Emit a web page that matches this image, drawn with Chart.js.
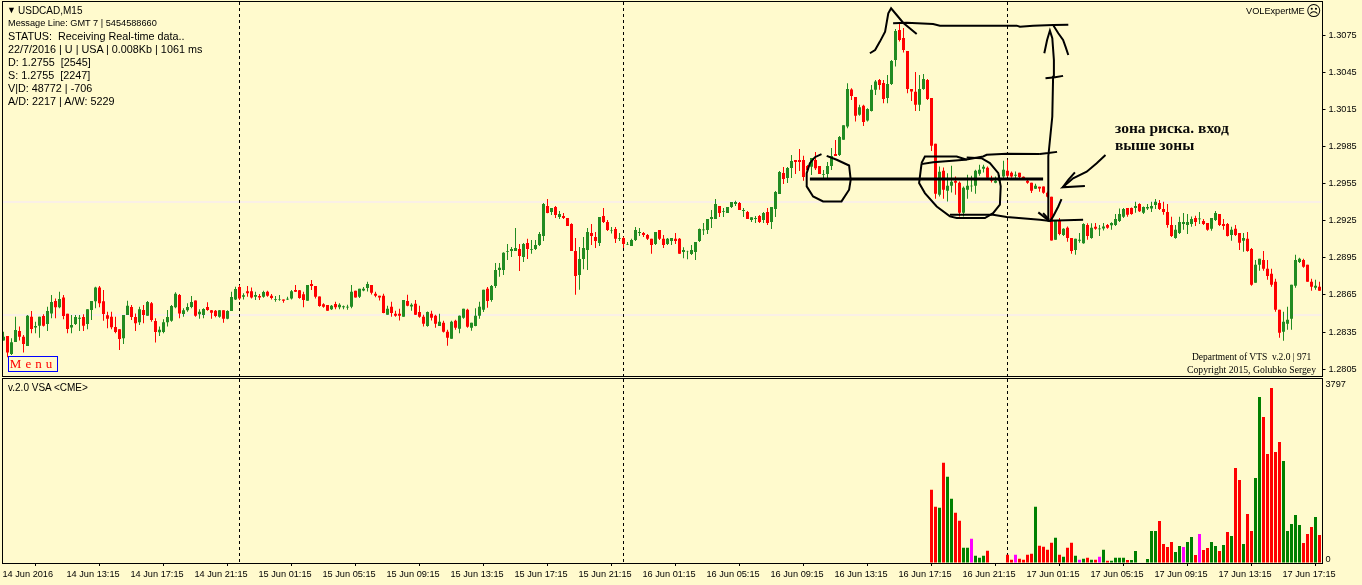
<!DOCTYPE html>
<html>
<head>
<meta charset="utf-8">
<script src="https://cdn.jsdelivr.net/npm/chart.js@4"></script>
<style>
  html, body { margin: 0; padding: 0; background: #fffacd; overflow: hidden; }
  #wrap { position: relative; width: 1362px; height: 585px; overflow: hidden; }
  canvas { position: absolute; left: 0; }
  .t { position: absolute; white-space: pre; color: #000; font: 10.8px "Liberation Sans", sans-serif; line-height: 13px; }
  .serif { font-family: "Liberation Serif", serif; }
  #menu { left: 8px; top: 356px; width: 48px; height: 14px; border: 1px solid #00f; color: #f00; font: 13px/14px "Liberation Serif", serif; text-align: center; letter-spacing: 4px; }
  #note { left: 1115px; top: 120px; font: bold 15.5px/16.5px "Liberation Serif", serif; color: #0a0a0a; }
</style>
</head>
<body>
<div id="wrap">
  <canvas id="price" width="1362" height="378" style="top:0"></canvas>
  <canvas id="volume" width="1362" height="207" style="top:378px"></canvas>

  <div class="t" style="left:7px;top:4px;font-size:9px">▼</div>
  <div class="t" style="left:18px;top:4px;font-size:10px">USDCAD,M15</div>
  <div class="t" style="left:8px;top:17px;font-size:9.2px">Message Line: GMT 7 | 5454588660</div>
  <div class="t" style="left:8px;top:30px">STATUS:  Receiving Real-time data..</div>
  <div class="t" style="left:8px;top:43px">22/7/2016 | U | USA | 0.008Kb | 1061 ms</div>
  <div class="t" style="left:8px;top:56px">D: 1.2755  [2545]</div>
  <div class="t" style="left:8px;top:69px">S: 1.2755  [2247]</div>
  <div class="t" style="left:8px;top:82px">V|D: 48772 | -706</div>
  <div class="t" style="left:8px;top:95px">A/D: 2217 | A/W: 5229</div>
  <div class="t" style="left:1246px;top:5px;font-size:9.2px">VOLExpertME</div>
  <div class="t" style="left:1306px;top:3px;font:15px/16px 'DejaVu Sans'">☹</div>
  <div class="t" id="menu">Menu</div>
  <div class="t serif" style="left:1192px;top:351px;font-size:9.5px">Department of VTS  v.2.0 | 971</div>
  <div class="t serif" style="left:1187px;top:363px;font-size:9.7px">Copyright 2015, Golubko Sergey</div>
  <div class="t" style="left:8px;top:381px;font-size:10px">v.2.0 VSA &lt;CME&gt;</div>
  <div class="t" id="note">зона риска. вход
выше зоны</div>
</div>

<script>
// x axis labels, one every 16 bars (4 hours)
const tickLabels = ["14 Jun 2016","14 Jun 13:15","14 Jun 17:15","14 Jun 21:15","15 Jun 01:15","15 Jun 05:15","15 Jun 09:15",
  "15 Jun 13:15","15 Jun 17:15","15 Jun 21:15","16 Jun 01:15","16 Jun 05:15","16 Jun 09:15","16 Jun 13:15","16 Jun 17:15",
  "16 Jun 21:15","17 Jun 01:15","17 Jun 05:15","17 Jun 09:15","17 Jun 13:15","17 Jun 17:15"];
const priceTicks = [1.3075,1.3045,1.3015,1.2985,1.2955,1.2925,1.2895,1.2865,1.2835,1.2805];
const levels = [1.2940,1.2849];
const midnightBars = [59,155,251];

const opens = [
1.28281,1.28318,1.28173,1.28270,1.28359,1.28313,1.28238,1.28474,1.28386,1.28402,
1.28480,1.28415,1.28501,1.28601,1.28550,1.28630,1.28499,1.28386,1.28415,1.28458,
1.28472,1.28415,1.28528,1.28598,1.28711,1.28598,1.28485,1.28474,1.28391,1.28372,
1.28300,1.28488,1.28552,1.28472,1.28429,1.28528,1.28482,1.28582,1.28439,1.28348,
1.28351,1.28429,1.28442,1.28550,1.28649,1.28496,1.28526,1.28552,1.28606,1.28493,
1.28488,1.28552,1.28526,1.28523,1.28474,1.28526,1.28458,1.28520,1.28614,1.28714,
1.28636,1.28679,1.28679,1.28636,1.28641,1.28636,1.28676,1.28644,1.28612,1.28609,
1.28614,1.28614,1.28622,1.28690,1.28687,1.28655,1.28604,1.28738,1.28722,1.28638,
1.28574,1.28569,1.28534,1.28577,1.28550,1.28551,1.28549,1.28554,1.28683,1.28635,
1.28686,1.28707,1.28731,1.28659,1.28643,1.28643,1.28489,1.28554,1.28497,1.28497,
1.28473,1.28602,1.28556,1.28578,1.28513,1.28473,1.28400,1.28497,1.28481,1.28400,
1.28425,1.28352,1.28296,1.28441,1.28376,1.28465,1.28530,1.28384,1.28400,1.28481,
1.28530,1.28699,1.28610,1.28723,1.28852,1.28852,1.28998,1.29006,1.29006,1.29022,
1.28957,1.29070,1.29016,1.29022,1.29054,1.29127,1.29369,1.29320,1.29361,1.29280,
1.29288,1.29272,1.29224,1.29006,1.28812,1.28941,1.29014,1.29151,1.29119,1.29070,
1.29288,1.29240,1.29170,1.29183,1.29105,1.29111,1.29057,1.29046,1.29094,1.29151,
1.29151,1.29135,1.29103,1.29062,1.29175,1.29103,1.29062,1.29086,1.29103,1.29103,
1.28997,1.29000,1.28981,1.28997,1.29086,1.29172,1.29175,1.29264,1.29264,1.29369,
1.29323,1.29312,1.29361,1.29385,1.29393,1.29328,1.29320,1.29256,1.29264,1.29288,
1.29256,1.29320,1.29240,1.29344,1.29466,1.29635,1.29595,1.29675,1.29740,1.29740,
1.29740,1.29691,1.29686,1.29740,1.29691,1.29622,1.29627,1.29691,1.29788,1.29780,
1.29903,1.30011,1.30309,1.30250,1.30105,1.30178,1.30059,1.30137,1.30307,1.30387,
1.30363,1.30242,1.30355,1.30549,1.30791,1.30726,1.30621,1.30315,1.30291,1.30186,
1.30315,1.30387,1.30242,1.29871,1.29459,1.29653,1.29492,1.29532,1.29572,1.29556,
1.29314,1.29500,1.29529,1.29532,1.29629,1.29669,1.29677,1.29580,1.29556,1.29572,
1.29607,1.29653,1.29637,1.29613,1.29637,1.29605,1.29572,1.29556,1.29508,1.29524,
1.29527,1.29475,1.29443,1.29095,1.29248,1.29135,1.29192,1.29111,1.29014,1.29087,
1.29068,1.29216,1.29111,1.29200,1.29181,1.29186,1.29216,1.29213,1.29216,1.29248,
1.29281,1.29353,1.29353,1.29353,1.29385,1.29315,1.29348,1.29348,1.29377,1.29393,
1.29345,1.29321,1.29216,1.29111,1.29151,1.29224,1.29216,1.29224,1.29272,1.29262,
1.29248,1.29232,1.29184,1.29256,1.29305,1.29224,1.29224,1.29135,1.29184,1.29151,
1.29087,1.29103,1.29022,1.28748,1.28893,1.28933,1.28861,1.28821,1.28756,1.28530,
1.28352,1.28417,1.28457,1.28724,1.28917,1.28933,1.28893,1.28756,1.28708,1.28716];

const closes = [
1.28313,1.28184,1.28267,1.28367,1.28313,1.28254,1.28482,1.28375,1.28399,1.28474,
1.28402,1.28520,1.28593,1.28550,1.28617,1.28480,1.28375,1.28407,1.28472,1.28466,
1.28402,1.28534,1.28601,1.28711,1.28582,1.28496,1.28458,1.28388,1.28351,1.28294,
1.28488,1.28563,1.28472,1.28421,1.28534,1.28488,1.28593,1.28447,1.28351,1.28369,
1.28429,1.28472,1.28560,1.28660,1.28501,1.28526,1.28552,1.28593,1.28482,1.28515,
1.28536,1.28528,1.28507,1.28480,1.28526,1.28458,1.28520,1.28633,1.28698,1.28622,
1.28647,1.28663,1.28630,1.28649,1.28630,1.28673,1.28644,1.28625,1.28617,1.28614,
1.28604,1.28620,1.28679,1.28676,1.28625,1.28609,1.28730,1.28722,1.28636,1.28560,
1.28555,1.28523,1.28563,1.28550,1.28571,1.28559,1.28554,1.28675,1.28629,1.28699,
1.28699,1.28739,1.28667,1.28643,1.28629,1.28505,1.28538,1.28505,1.28481,1.28481,
1.28610,1.28562,1.28570,1.28489,1.28473,1.28417,1.28513,1.28465,1.28417,1.28433,
1.28352,1.28304,1.28433,1.28384,1.28481,1.28538,1.28392,1.28425,1.28481,1.28554,
1.28691,1.28602,1.28723,1.28852,1.28869,1.28990,1.29006,1.29022,1.29030,1.28965,
1.29062,1.29022,1.29022,1.29054,1.29143,1.29385,1.29312,1.29353,1.29296,1.29304,
1.29272,1.29207,1.29006,1.28804,1.28941,1.29030,1.29159,1.29127,1.29086,1.29280,
1.29240,1.29175,1.29175,1.29103,1.29111,1.29062,1.29062,1.29094,1.29175,1.29159,
1.29135,1.29103,1.29054,1.29159,1.29103,1.29054,1.29103,1.29111,1.29086,1.28982,
1.29014,1.29003,1.29014,1.29078,1.29183,1.29178,1.29264,1.29280,1.29385,1.29312,
1.29328,1.29361,1.29401,1.29401,1.29336,1.29336,1.29264,1.29277,1.29272,1.29240,
1.29312,1.29231,1.29361,1.29482,1.29643,1.29587,1.29675,1.29732,1.29724,1.29724,
1.29603,1.29659,1.29756,1.29673,1.29627,1.29627,1.29691,1.29772,1.29772,1.29926,
1.30022,1.30315,1.30258,1.30097,1.30167,1.30048,1.30153,1.30307,1.30374,1.30347,
1.30234,1.30355,1.30541,1.30783,1.30710,1.30629,1.30315,1.30293,1.30186,1.30315,
1.30395,1.30234,1.29855,1.29467,1.29645,1.29500,1.29532,1.29564,1.29556,1.29314,
1.29516,1.29532,1.29532,1.29653,1.29661,1.29685,1.29597,1.29572,1.29572,1.29588,
1.29661,1.29613,1.29607,1.29621,1.29602,1.29588,1.29556,1.29492,1.29532,1.29511,
1.29475,1.29443,1.29090,1.29248,1.29143,1.29184,1.29111,1.29006,1.29103,1.29095,
1.29224,1.29127,1.29192,1.29184,1.29186,1.29202,1.29192,1.29232,1.29264,1.29305,
1.29345,1.29297,1.29305,1.29369,1.29326,1.29361,1.29361,1.29369,1.29402,1.29345,
1.29321,1.29216,1.29127,1.29176,1.29240,1.29240,1.29240,1.29264,1.29240,1.29267,
1.29224,1.29176,1.29272,1.29313,1.29216,1.29208,1.29127,1.29176,1.29135,1.29071,
1.29111,1.29006,1.28732,1.28893,1.28942,1.28861,1.28804,1.28732,1.28530,1.28344,
1.28433,1.28449,1.28732,1.28933,1.28942,1.28877,1.28756,1.28716,1.28724,1.28683];

const highs = [
1.28353,1.28318,1.28300,1.28474,1.28394,1.28326,1.28488,1.28520,1.28434,1.28474,
1.28493,1.28555,1.28649,1.28622,1.28676,1.28649,1.28499,1.28488,1.28488,1.28488,
1.28493,1.28534,1.28601,1.28716,1.28722,1.28690,1.28515,1.28515,1.28474,1.28372,
1.28488,1.28604,1.28569,1.28501,1.28555,1.28569,1.28601,1.28593,1.28461,1.28394,
1.28453,1.28528,1.28569,1.28671,1.28657,1.28542,1.28582,1.28641,1.28606,1.28534,
1.28542,1.28590,1.28528,1.28528,1.28528,1.28526,1.28526,1.28676,1.28716,1.28730,
1.28663,1.28722,1.28711,1.28676,1.28657,1.28684,1.28684,1.28657,1.28641,1.28649,
1.28614,1.28636,1.28690,1.28730,1.28690,1.28676,1.28730,1.28770,1.28722,1.28638,
1.28582,1.28569,1.28569,1.28595,1.28582,1.28565,1.28570,1.28731,1.28683,1.28699,
1.28715,1.28756,1.28731,1.28675,1.28643,1.28659,1.28562,1.28594,1.28522,1.28538,
1.28610,1.28651,1.28583,1.28610,1.28562,1.28489,1.28516,1.28522,1.28489,1.28497,
1.28441,1.28368,1.28441,1.28449,1.28484,1.28538,1.28538,1.28425,1.28543,1.28594,
1.28691,1.28715,1.28731,1.28909,1.28909,1.28995,1.29062,1.29038,1.29191,1.29062,
1.29070,1.29103,1.29094,1.29094,1.29159,1.29393,1.29425,1.29353,1.29369,1.29329,
1.29312,1.29272,1.29229,1.29111,1.29038,1.29119,1.29191,1.29224,1.29159,1.29280,
1.29353,1.29256,1.29199,1.29199,1.29151,1.29121,1.29078,1.29103,1.29199,1.29191,
1.29159,1.29143,1.29103,1.29159,1.29175,1.29135,1.29111,1.29111,1.29151,1.29111,
1.29035,1.29008,1.29054,1.29078,1.29186,1.29231,1.29264,1.29336,1.29425,1.29369,
1.29353,1.29361,1.29401,1.29412,1.29401,1.29353,1.29328,1.29277,1.29288,1.29296,
1.29320,1.29353,1.29361,1.29490,1.29651,1.29683,1.29683,1.29780,1.29740,1.29829,
1.29774,1.29700,1.29756,1.29804,1.29691,1.29659,1.29724,1.29837,1.29901,1.29934,
1.30022,1.30360,1.30320,1.30250,1.30186,1.30186,1.30159,1.30347,1.30387,1.30395,
1.30387,1.30428,1.30549,1.30799,1.30845,1.30807,1.30621,1.30315,1.30452,1.30428,
1.30436,1.30395,1.30242,1.29871,1.29688,1.29680,1.29634,1.29693,1.29607,1.29567,
1.29527,1.29621,1.29613,1.29661,1.29701,1.29701,1.29688,1.29613,1.29607,1.29621,
1.29734,1.29742,1.29648,1.29648,1.29637,1.29607,1.29580,1.29556,1.29548,1.29524,
1.29527,1.29486,1.29443,1.29248,1.29272,1.29189,1.29202,1.29111,1.29103,1.29151,
1.29229,1.29229,1.29229,1.29232,1.29216,1.29232,1.29224,1.29237,1.29305,1.29348,
1.29353,1.29353,1.29356,1.29402,1.29391,1.29364,1.29385,1.29402,1.29426,1.29418,
1.29402,1.29385,1.29281,1.29216,1.29281,1.29313,1.29305,1.29283,1.29289,1.29321,
1.29264,1.29232,1.29272,1.29329,1.29305,1.29264,1.29232,1.29200,1.29216,1.29151,
1.29151,1.29159,1.29030,1.28933,1.28942,1.29006,1.28933,1.28861,1.28780,1.28530,
1.28514,1.28554,1.28732,1.28974,1.28950,1.28942,1.28893,1.28780,1.28772,1.28756];

const lows = [
1.28281,1.28146,1.28165,1.28270,1.28281,1.28184,1.28238,1.28340,1.28340,1.28305,
1.28394,1.28359,1.28461,1.28461,1.28542,1.28453,1.28340,1.28340,1.28407,1.28359,
1.28359,1.28372,1.28447,1.28542,1.28550,1.28442,1.28380,1.28372,1.28340,1.28205,
1.28254,1.28488,1.28447,1.28359,1.28407,1.28421,1.28482,1.28434,1.28265,1.28318,
1.28340,1.28394,1.28434,1.28542,1.28461,1.28474,1.28515,1.28542,1.28474,1.28458,
1.28461,1.28523,1.28458,1.28469,1.28466,1.28426,1.28453,1.28520,1.28609,1.28609,
1.28614,1.28636,1.28622,1.28609,1.28609,1.28628,1.28636,1.28614,1.28595,1.28604,
1.28587,1.28609,1.28614,1.28673,1.28620,1.28550,1.28604,1.28690,1.28622,1.28555,
1.28547,1.28523,1.28528,1.28534,1.28534,1.28535,1.28530,1.28543,1.28629,1.28626,
1.28680,1.28678,1.28653,1.28632,1.28605,1.28503,1.28489,1.28473,1.28473,1.28444,
1.28473,1.28559,1.28522,1.28487,1.28465,1.28395,1.28392,1.28444,1.28384,1.28400,
1.28347,1.28239,1.28296,1.28368,1.28341,1.28457,1.28384,1.28360,1.28398,1.28457,
1.28513,1.28546,1.28594,1.28707,1.28796,1.28812,1.28933,1.28957,1.29006,1.28844,
1.28917,1.28941,1.28982,1.29014,1.29046,1.29086,1.29310,1.29296,1.29272,1.29264,
1.29264,1.29207,1.29006,1.28651,1.28691,1.28858,1.28852,1.29054,1.29030,1.29046,
1.29232,1.29167,1.29146,1.29070,1.29086,1.29030,1.29054,1.29046,1.29086,1.29127,
1.29119,1.29094,1.28982,1.29054,1.29094,1.29030,1.29054,1.29054,1.29062,1.28982,
1.28946,1.28938,1.28973,1.28933,1.29078,1.29135,1.29143,1.29191,1.29264,1.29280,
1.29280,1.29312,1.29353,1.29369,1.29336,1.29280,1.29264,1.29240,1.29231,1.29231,
1.29231,1.29215,1.29183,1.29280,1.29466,1.29546,1.29554,1.29595,1.29627,1.29651,
1.29572,1.29640,1.29619,1.29659,1.29627,1.29584,1.29584,1.29659,1.29772,1.29772,
1.29903,1.29997,1.30226,1.30051,1.30097,1.30016,1.30051,1.30132,1.30266,1.30307,
1.30199,1.30199,1.30347,1.30495,1.30697,1.30608,1.30280,1.30218,1.30137,1.30137,
1.30307,1.30226,1.29814,1.29427,1.29446,1.29427,1.29406,1.29478,1.29459,1.29284,
1.29284,1.29427,1.29484,1.29467,1.29613,1.29640,1.29588,1.29559,1.29553,1.29556,
1.29594,1.29602,1.29597,1.29594,1.29594,1.29586,1.29548,1.29473,1.29505,1.29484,
1.29467,1.29438,1.29090,1.29095,1.29133,1.29127,1.29079,1.28982,1.28974,1.29071,
1.29063,1.29095,1.29103,1.29176,1.29127,1.29170,1.29184,1.29176,1.29208,1.29240,
1.29272,1.29281,1.29297,1.29315,1.29321,1.29305,1.29337,1.29321,1.29345,1.29337,
1.29297,1.29192,1.29119,1.29103,1.29143,1.29176,1.29143,1.29200,1.29208,1.29224,
1.29216,1.29168,1.29168,1.29248,1.29208,1.29176,1.29122,1.29087,1.29127,1.29014,
1.28998,1.28998,1.28724,1.28748,1.28845,1.28845,1.28772,1.28716,1.28514,1.28304,
1.28280,1.28369,1.28369,1.28708,1.28909,1.28869,1.28756,1.28683,1.28691,1.28683];

// the volume pane only has data for the last bars
const volumeFirstBar = 232;
const volumes = [
1590,1222,1200,2177,1873,1396,1092,918,333,333,528,159,116,159,268,0,0,0,0,181,
72,181,94,72,181,203,1222,376,354,289,441,550,181,137,333,441,159,72,94,116,
72,72,137,289,50,50,116,116,116,65,65,260,0,0,87,694,694,911,412,347,
456,239,369,347,456,564,174,629,282,325,456,369,260,391,673,586,2061,1801,412,1063,
694,1844,3602,3168,2365,3797,2408,2625,2213,694,846,1041,824,434,629,781,998,608];
const volumeKinds = [
"r","r","g","r","g","g","r","r","g","g","m","g","g","g","r","g","g","g","g","r",
"r","m","r","r","r","r","g","r","r","r","r","g","r","g","r","r","g","m","g","r",
"g","r","m","g","r","g","g","g","g","r","g","g","g","g","g","g","g","r","r","r",
"r","g","g","m","g","g","r","m","r","r","g","g","r","g","r","g","r","r","g","r",
"r","g","g","r","r","r","r","r","g","g","g","g","g","r","r","r","g","r"];

// pen strokes drawn over the chart: [bar number, price]
const penPeak = [[216.6,1.30603],[217.9,1.30629],[219.1,1.30697],[220.4,1.30777],[221.2,1.30925],[221.9,1.30966],[223.3,1.30912],[224.9,1.30850],[228.3,1.30759]];
const penTop = [[222.4,1.30845],[225.8,1.30850],[232.4,1.30839],[234.1,1.30826],[253.3,1.30826],[254.1,1.30818],[257.4,1.30826],[262.4,1.30831],[266.2,1.30834]];
const penShaft = [[261.2,1.29244],[261.2,1.29769],[262.2,1.30092],[262.4,1.30414],[262.6,1.30549],[262.2,1.30724],[261.6,1.30786],[260.9,1.30710],[260.2,1.30603]];
const penHead = [[262.4,1.30831],[263.7,1.30764],[264.9,1.30710],[265.5,1.30656],[266.2,1.30589]];
const penTickHigh = [[260.5,1.30401],[262.9,1.30409],[264.9,1.30420]];
const penTickLow = [[259.1,1.29788],[261.2,1.29796],[263.4,1.29806]];
const penLeftCircle = [[204.5,1.29788],[202.85,1.29763],[201.6,1.29715],[200.8,1.29634],[200.8,1.29527],[202.4,1.29446],[204.9,1.29406],[209.5,1.29406],[211.4,1.29500],[211.8,1.29580],[211.4,1.29696],[208.3,1.29742],[205.8,1.29774]];
const penBigCircle = [[240.4,1.29742],[232.4,1.29723],[229.5,1.29707],[228.9,1.29554],[230.35,1.29473],[233.3,1.29365],[236.6,1.29285],[238.3,1.29271],[245.35,1.29271],[247.4,1.29311],[249.1,1.29379],[249.3,1.29527],[248.7,1.29634],[246.6,1.29715],[244.5,1.29755],[240.8,1.29761]];
const penCircleCap = [[229.5,1.29715],[230.35,1.29769],[238.3,1.29769],[240.8,1.29742]];
const penMidLine = [[240.4,1.29742],[244.9,1.29769],[245.8,1.29782],[250.8,1.29790],[259.1,1.29788]];
const penLowLine = [[236.6,1.29298],[247.4,1.29298],[250.8,1.29279],[259.1,1.29258],[261.2,1.29250],[269.9,1.29258]];
const penLowLeft = [[258.7,1.29317],[261.6,1.29244]];
const penLowLeft2 = [[259.9,1.29311],[261.4,1.29258]];
const penLowRight = [[261.6,1.29244],[262.4,1.29284],[263.7,1.29365],[264.5,1.29424]];
const penPointer = [[275.5,1.29781],[273.3,1.29714],[270.8,1.29646],[267.4,1.29593],[264.8,1.29520],[270.35,1.29531]];
const penPointerHead = [[264.8,1.29520],[266.2,1.29579],[267.85,1.29641]];
const penThick = [[201.6,1.29586],[259.9,1.29586]];

const barCount = opens.length;
const categories = opens.map((o, i) => i % 16 === 0 ? tickLabels[i / 16] : "");
const upColor = "#228b22", downColor = "#ff0000";
const bg = "#fffacd";
const candleColors = opens.map((o, i) => closes[i] >= o ? upColor : downColor);
const kindColors = { r: "#ff0000", g: "#008000", m: "#ff00ff" };

function pen(points, width) {
  return {
    type: "line",
    xAxisID: "xPen",
    data: points.map(p => ({ x: p[0], y: p[1] })),
    borderColor: "#000",
    borderWidth: width || 2,
    pointRadius: 0,
    tension: 0,
    fill: false,
    order: 0
  };
}

// faint levels, midnight separators and panel frame
const paneDecor = {
  id: "paneDecor",
  beforeDatasetsDraw(chart, args, opts) {
    const { ctx, chartArea: a, scales } = chart;
    ctx.save();
    if (opts.levels) {
      ctx.strokeStyle = "#faf0e6";
      ctx.lineWidth = 2;
      levels.forEach(v => {
        const y = Math.round(scales.y.getPixelForValue(v));
        ctx.beginPath(); ctx.moveTo(a.left + 1, y); ctx.lineTo(a.right, y); ctx.stroke();
      });
    }
    ctx.strokeStyle = "#000";
    ctx.lineWidth = 1;
    ctx.setLineDash([3, 3]);
    midnightBars.forEach(i => {
      const x = scales.x.getPixelForValue(i);
      ctx.beginPath(); ctx.moveTo(x, a.top); ctx.lineTo(x, a.bottom); ctx.stroke();
    });
    ctx.restore();
  },
  afterDraw(chart) {
    const { ctx, chartArea: a } = chart;
    ctx.save();
    ctx.strokeStyle = "#000";
    ctx.lineWidth = 1;
    ctx.strokeRect(a.left + 1, a.top - 0.5, a.right - a.left, a.bottom - a.top + 1);
    ctx.restore();
  }
};

const tickFont = { family: "Liberation Sans", size: 9.2 };

// label overhang must not push the plot area in
function fitYAxis(s) {
  s.width = 40.5;
  s.paddingTop = 0;
  s.paddingBottom = 0;
}

new Chart(document.getElementById("price"), {
  type: "bar",
  plugins: [paneDecor],
  data: {
    labels: categories,
    datasets: [
      pen(penPeak), pen(penTop), pen(penShaft), pen(penHead), pen(penTickHigh), pen(penTickLow),
      pen(penLeftCircle), pen(penBigCircle), pen(penCircleCap), pen(penMidLine), pen(penLowLine),
      pen(penLowLeft), pen(penLowLeft2), pen(penLowRight), pen(penPointer), pen(penPointerHead),
      pen(penThick, 3),
      {
        data: opens.map((o, i) => [o, closes[i]]),
        backgroundColor: candleColors,
        barThickness: 3,
        inflateAmount: 0,
        grouped: false,
        order: 1
      },
      {
        data: lows.map((l, i) => [l, highs[i]]),
        backgroundColor: candleColors,
        barThickness: 1,
        inflateAmount: 0,
        grouped: false,
        order: 2
      }
    ]
  },
  options: {
    responsive: false,
    animation: false,
    devicePixelRatio: 1,
    layout: { padding: { left: 1.5, top: 2, bottom: 2 } },
    plugins: { legend: { display: false }, tooltip: { enabled: false }, paneDecor: { levels: true } },
    scales: {
      x: { display: false },
      xPen: { type: "linear", display: false, offset: false, min: -0.5, max: barCount - 0.5 },
      y: {
        position: "right",
        min: 1.27995,
        max: 1.31017,
        afterBuildTicks: s => { s.ticks = priceTicks.map(value => ({ value })); },
        afterFit: fitYAxis,
        border: { display: false },
        grid: { drawOnChartArea: false, color: "#000", tickLength: 4 },
        ticks: { color: "#000", font: tickFont, padding: 3, callback: v => v.toFixed(4) }
      }
    }
  }
});

new Chart(document.getElementById("volume"), {
  type: "bar",
  plugins: [paneDecor],
  data: {
    labels: categories,
    datasets: [{
      data: new Array(volumeFirstBar).fill(null).concat(volumes),
      backgroundColor: new Array(volumeFirstBar).fill(bg).concat(volumeKinds.map(k => kindColors[k])),
      barThickness: 3,
      inflateAmount: 0
    }]
  },
  options: {
    responsive: false,
    animation: false,
    devicePixelRatio: 1,
    layout: { padding: { left: 1.5, top: 1 } },
    plugins: { legend: { display: false }, tooltip: { enabled: false }, paneDecor: { levels: false } },
    scales: {
      x: {
        afterBuildTicks: s => { s.ticks = s.ticks.filter(t => t.value % 16 === 0); },
        afterFit: s => { s.height = 22; },
        border: { display: false },
        grid: { drawOnChartArea: false, color: "#000", tickLength: 3 },
        ticks: { color: "#000", font: tickFont, autoSkip: false, maxRotation: 0, align: "start", padding: 3, labelOffset: -1 }
      },
      y: {
        position: "right",
        min: 0,
        max: 3992,
        afterBuildTicks: s => { s.ticks = [0, 3797].map(value => ({ value })); },
        afterFit: fitYAxis,
        border: { display: false },
        grid: { drawOnChartArea: false, drawTicks: false },
        ticks: { color: "#000", font: tickFont, padding: 4, labelOffset: -4, callback: v => String(v) }
      }
    }
  }
});
</script>
</body>
</html>
